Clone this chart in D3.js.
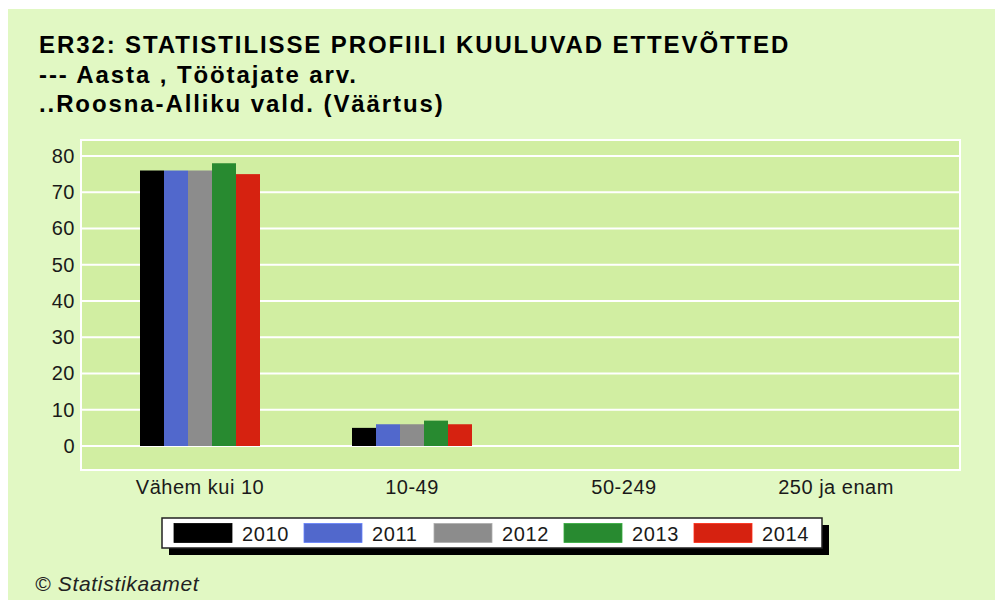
<!DOCTYPE html>
<html>
<head>
<meta charset="utf-8">
<script src="https://cdn.jsdelivr.net/npm/d3@7"></script>
<style>
  html, body { margin: 0; padding: 0; background: #ffffff; }
  svg { display: block; font-family: "Liberation Sans", Arial, sans-serif; }
</style>
</head>
<body>
<div id="chart"></div>
<script>
const titleLines = [
  'ER32: STATISTILISSE PROFIILI KUULUVAD ETTEVÕTTED',
  '--- Aasta , Töötajate arv.',
  '..Roosna-Alliku vald. (Väärtus)'
];
const categories = ['Vähem kui 10', '10-49', '50-249', '250 ja enam'];
const years = ['2010', '2011', '2012', '2013', '2014'];
const values2010 = [76, 5, null, null];
const values2011 = [76, 6, null, null];
const values2012 = [76, 6, null, null];
const values2013 = [78, 7, null, null];
const values2014 = [75, 6, null, null];
const yTicks = [0, 10, 20, 30, 40, 50, 60, 70, 80];
const sourceText = '© Statistikaamet';

const seriesValues = [values2010, values2011, values2012, values2013, values2014];
const colors = ['#000000', '#5168cc', '#8c8c8c', '#288a30', '#d62210'];

const width = 995;
const height = 600;
const plot = { left: 81, top: 140, right: 960, bottom: 470 };

const svg = d3.select('#chart')
  .append('svg')
  .attr('width', width)
  .attr('height', height);

// page background
svg.append('rect')
  .attr('x', 8).attr('y', 9)
  .attr('width', width - 8).attr('height', height - 9)
  .attr('fill', '#e1f8c3');

// title
svg.append('g')
  .selectAll('text')
  .data(titleLines)
  .enter()
  .append('text')
  .attr('x', 39)
  .attr('y', (d, i) => 53 + i * 29.5)
  .attr('font-size', 24)
  .attr('font-weight', 'bold')
  .attr('letter-spacing', 1.9)
  .attr('fill', '#000')
  .text(d => d);

// plot area
svg.append('rect')
  .attr('x', plot.left).attr('y', plot.top)
  .attr('width', plot.right - plot.left)
  .attr('height', plot.bottom - plot.top)
  .attr('fill', '#d1eea2')
  .attr('stroke', '#ffffff')
  .attr('stroke-width', 2);

const y = d3.scaleLinear().domain([0, 80]).range([446, 156]);

const x = d3.scaleBand()
  .domain(categories)
  .range([94, 942]);

const groupWidth = 120;
const xInner = d3.scaleBand()
  .domain(years)
  .range([(x.bandwidth() - groupWidth) / 2, (x.bandwidth() + groupWidth) / 2]);

// grid
svg.append('g')
  .selectAll('line')
  .data(yTicks)
  .enter()
  .append('line')
  .attr('x1', plot.left).attr('x2', plot.right)
  .attr('y1', d => y(d)).attr('y2', d => y(d))
  .attr('stroke', '#ffffff')
  .attr('stroke-width', 2);

// y axis labels
const yAxis = svg.append('g')
  .attr('transform', `translate(${plot.left - 6},0)`)
  .call(d3.axisLeft(y).tickValues(yTicks).tickSize(0).tickPadding(0));
yAxis.select('.domain').remove();
yAxis.selectAll('text')
  .attr('font-size', 20)
  .attr('font-family', '"Liberation Sans", Arial, sans-serif')
  .attr('letter-spacing', 0.5)
  .attr('fill', '#1a1a1a');

// bars
const rows = [];
seriesValues.forEach((vals, si) => {
  vals.forEach((v, ci) => {
    if (v !== null) rows.push({ year: years[si], cat: categories[ci], value: v, color: colors[si] });
  });
});

svg.append('g')
  .selectAll('rect')
  .data(rows)
  .enter()
  .append('rect')
  .attr('x', d => x(d.cat) + xInner(d.year))
  .attr('y', d => y(d.value))
  .attr('width', xInner.bandwidth())
  .attr('height', d => y(0) - y(d.value))
  .attr('fill', d => d.color);

// x axis labels
const xAxis = svg.append('g')
  .attr('transform', `translate(0,${plot.bottom + 10})`)
  .call(d3.axisBottom(x).tickSize(0).tickPadding(0));
xAxis.select('.domain').remove();
xAxis.selectAll('text')
  .attr('dy', '0.72em')
  .attr('font-size', 20)
  .attr('font-family', '"Liberation Sans", Arial, sans-serif')
  .attr('letter-spacing', 0.5)
  .attr('fill', '#1a1a1a');

// legend
const legend = svg.append('g');
const lg = { x: 162, y: 518, w: 660, h: 30, shadow: 7 };
legend.append('rect')
  .attr('x', lg.x + lg.shadow).attr('y', lg.y + lg.shadow)
  .attr('width', lg.w).attr('height', lg.h)
  .attr('fill', '#000');
legend.append('rect')
  .attr('x', lg.x).attr('y', lg.y)
  .attr('width', lg.w).attr('height', lg.h)
  .attr('fill', '#ffffff')
  .attr('stroke', '#222')
  .attr('stroke-width', 1.5);

const item = legend.selectAll('g.item')
  .data(years)
  .enter()
  .append('g')
  .attr('class', 'item')
  .attr('transform', (d, i) => `translate(${174 + i * 130},0)`);
item.append('rect')
  .attr('x', 0).attr('y', 523.5)
  .attr('width', 58).attr('height', 19)
  .attr('fill', (d, i) => colors[i])
  .attr('stroke', (d, i) => d3.color(colors[i]).brighter(0.6))
  .attr('stroke-width', 0.8);
item.append('text')
  .attr('x', 68).attr('y', 541)
  .attr('font-size', 20)
  .attr('letter-spacing', 0.6)
  .attr('fill', '#1a1a1a')
  .text(d => d);

// source
svg.append('text')
  .attr('x', 35).attr('y', 591)
  .attr('font-size', 21)
  .attr('font-style', 'italic')
  .attr('letter-spacing', 0.7)
  .attr('fill', '#222')
  .text(sourceText);
</script>
</body>
</html>
